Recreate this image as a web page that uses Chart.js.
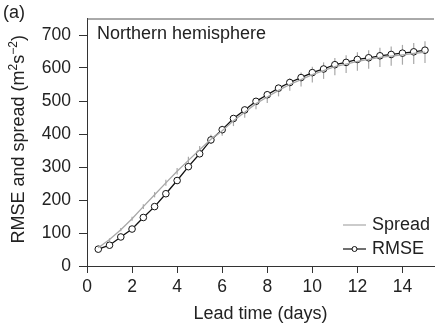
<!DOCTYPE html>
<html>
<head>
<meta charset="utf-8">
<script src="https://cdn.jsdelivr.net/npm/chart.js@4"></script>
<style>
html,body{margin:0;padding:0;background:#fff;}
#wrap{width:439px;height:325px;position:relative;}
</style>
</head>
<body>
<div id="wrap"><canvas id="c" width="439" height="325"></canvas></div>
<script>
const leadDays = [0.5,1,1.5,2,2.5,3,3.5,4,4.5,5,5.5,6,6.5,7,7.5,8,8.5,9,9.5,10,10.5,11,11.5,12,12.5,13,13.5,14,14.5,15];
const rmse = [51,63,88,112,147,180,219,259,301,340,382,413,447,473,499,519,539,556,571,586,597,610,617,626,631,637,641,645,649,654];
const spread = [55,80,110,143,180,216,252,287,320,352,384,410,440,466,492,512,532,550,565,580,592,604,612,620,626,632,636,640,644,648];
const spreadErr = [3,4,5,6,7,8,9,10,11,12,14,15,16,17,17,18,18,19,21,24,25,26,27,28,28,29,29,30,32,33];
const xTicks = [0,2,4,6,8,10,12,14];
const yTicks = [0,100,200,300,400,500,600,700];
const panelLabel = '(a)';
const regionLabel = 'Northern hemisphere';
const legendLabels = ['Spread','RMSE'];
const xTitle = 'Lead time (days)';
// y title pieces: [text, isSuperscript]
const yTitleParts = [['RMSE and spread (m', false], ['2', true], ['s', false], ['\u22122', true], [')', false]];

const FONT = 'Liberation Sans, Arial, Helvetica, sans-serif';
const AX = '#333';
const TXT = '#222';

const extras = {
  id: 'extras',
  beforeDatasetsDraw(chart) {
    const ctx = chart.ctx, xs = chart.scales.x, ys = chart.scales.y;
    ctx.save();
    ctx.strokeStyle = '#a8a8a8';
    ctx.lineWidth = 1.2;
    for (let i = 0; i < leadDays.length; i++) {
      const px = xs.getPixelForValue(leadDays[i]);
      ctx.beginPath();
      ctx.moveTo(px, ys.getPixelForValue(spread[i] - spreadErr[i]));
      ctx.lineTo(px, ys.getPixelForValue(spread[i] + spreadErr[i]));
      ctx.stroke();
    }
    ctx.restore();
  },
  afterDraw(chart) {
    const ctx = chart.ctx, a = chart.chartArea;
    ctx.save();
    ctx.strokeStyle = '#555';
    ctx.lineWidth = 1;
    ctx.beginPath();
    ctx.moveTo(a.left, a.top + 0.5);
    ctx.lineTo(a.right, a.top + 0.5);
    ctx.stroke();
    ctx.fillStyle = TXT;
    ctx.font = '18px ' + FONT;
    ctx.textBaseline = 'middle';
    ctx.textAlign = 'left';
    ctx.fillText(panelLabel, 3, 13);
    ctx.fillText(regionLabel, a.left + 10, 34);
    // legend
    const lx0 = 343, lx1 = 366, y1 = 225, y2 = 249;
    ctx.strokeStyle = '#a8a8a8';
    ctx.lineWidth = 1.2;
    ctx.beginPath(); ctx.moveTo(lx0, y1); ctx.lineTo(lx1, y1); ctx.stroke();
    ctx.strokeStyle = '#111';
    ctx.beginPath(); ctx.moveTo(lx0, y2); ctx.lineTo(lx1, y2); ctx.stroke();
    ctx.fillStyle = '#fff';
    ctx.lineWidth = 1;
    ctx.beginPath(); ctx.arc((lx0 + lx1) / 2, y2, 2.5, 0, Math.PI * 2); ctx.fill(); ctx.stroke();
    ctx.fillStyle = TXT;
    ctx.fillText(legendLabels[0], 372, y1);
    ctx.fillText(legendLabels[1], 372, y2);
    // y title with superscripts
    const fBig = '18px ' + FONT, fSmall = '12px ' + FONT;
    let total = 0;
    yTitleParts.forEach(([t, sup]) => { ctx.font = sup ? fSmall : fBig; total += ctx.measureText(t).width; });
    ctx.translate(24, (a.top + a.bottom) / 2 - 3);
    ctx.rotate(-Math.PI / 2);
    ctx.textBaseline = 'alphabetic';
    let x = -total / 2;
    yTitleParts.forEach(([t, sup]) => {
      ctx.font = sup ? fSmall : fBig;
      ctx.fillText(t, x, sup ? -7 : 0);
      x += ctx.measureText(t).width;
    });
    ctx.restore();
  }
};

new Chart(document.getElementById('c'), {
  type: 'line',
  data: {
    datasets: [
      {
        label: legendLabels[0],
        data: leadDays.map((d, i) => ({x: d, y: spread[i]})),
        borderColor: '#a8a8a8',
        borderWidth: 1.3,
        pointRadius: 0,
        tension: 0
      },
      {
        label: legendLabels[1],
        data: leadDays.map((d, i) => ({x: d, y: rmse[i]})),
        borderColor: '#111',
        borderWidth: 1.3,
        pointRadius: 3.3,
        pointBackgroundColor: '#fff',
        pointBorderColor: '#111',
        pointBorderWidth: 1,
        tension: 0
      }
    ]
  },
  options: {
    responsive: false,
    animation: false,
    devicePixelRatio: 1,
    layout: {padding: {top: 18, right: 0, left: 0, bottom: 0}},
    plugins: {legend: {display: false}, tooltip: {enabled: false}},
    scales: {
      x: {
        type: 'linear',
        min: 0, max: 15.4,
        afterBuildTicks(s) { s.ticks = xTicks.map(v => ({value: v})); },
        afterFit(s) { s.height = 59; },
        ticks: {color: TXT, font: {family: FONT, size: 17.5}, padding: 4, maxRotation: 0, autoSkip: false},
        grid: {display: true, drawOnChartArea: false, drawTicks: true, tickLength: 7, color: AX},
        border: {display: true, color: AX, width: 1},
        title: {display: true, text: xTitle, color: TXT, font: {family: FONT, size: 18}, padding: {top: 0, bottom: 0}}
      },
      y: {
        min: 0, max: 750,
        afterBuildTicks(s) { s.ticks = yTicks.map(v => ({value: v})); },
        afterFit(s) { s.width = 87; },
        ticks: {color: TXT, font: {family: FONT, size: 17.5}, padding: 8, autoSkip: false},
        grid: {display: true, drawOnChartArea: false, drawTicks: true, tickLength: 8, color: AX},
        border: {display: true, color: AX, width: 1},
        title: {display: false}
      }
    }
  },
  plugins: [extras]
});
</script>
</body>
</html>
